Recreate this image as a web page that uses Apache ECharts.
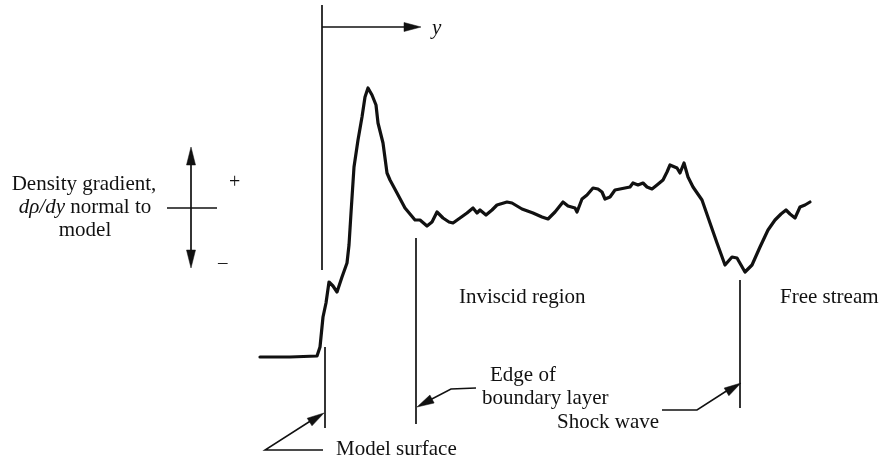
<!DOCTYPE html>
<html>
<head>
<meta charset="utf-8">
<script src="https://cdn.jsdelivr.net/npm/echarts@6/dist/echarts.min.js"></script>
<style>
  html, body { margin: 0; padding: 0; background: #fff; }
  #chart { width: 887px; height: 460px; }
</style>
</head>
<body>
<div id="chart"></div>
<script>
// Distance y measured from the model surface (arbitrary units)
const position = [
  -63, -33, -6, -3, 0, 3, 6, 10, 14, 19,
  24, 26, 28, 31, 35, 39, 42, 45, 49, 53,
  55, 60, 64, 67, 74, 82, 87, 92, 97, 104,
  109, 114, 120, 126, 130, 137, 144, 150, 154, 157,
  163, 169, 174, 184, 189, 199, 210, 219, 225, 232,
  240, 245, 252, 254, 259, 264, 270, 275, 279, 282,
  287, 292, 297, 302, 307, 310, 315, 320, 324, 329,
  334, 340, 344, 347, 354, 357, 361, 365, 370, 379,
  387, 394, 402, 409, 414, 422, 429, 437, 445, 452,
  458, 463, 467, 472, 477, 482, 487
];

// Density gradient dρ/dy normal to the model (arbitrary units, 0 = crossbar)
const gradient = [
  -149, -149, -148, -139, -109, -95, -74, -78, -84, -69,
  -55, -37, -5, 41, 68, 91, 111, 120, 113, 103,
  85, 65, 35, 28, 15, 0, -6, -12, -12, -18,
  -14, -4, -10, -14, -15, -10, -5, 0, -5, -2,
  -7, -2, 3, 6, 5, -1, -5, -9, -11, -4,
  6, 2, 0, -4, 9, 13, 20, 19, 16, 9,
  11, 18, 19, 20, 21, 25, 23, 25, 21, 19,
  23, 28, 36, 43, 40, 35, 45, 31, 21, 8,
  -15, -35, -57, -49, -50, -64, -57, -39, -22, -12,
  -6, -2, -6, -10, 1, 3, 6
];

// Region labels
const regionLabels = ['Inviscid region', 'Free stream'];
const axisLabelLines = ['Density gradient,', '{i|dρ/dy} normal to', 'model'];

const chart = echarts.init(document.getElementById('chart'), null, { renderer: 'canvas' });

const INK = '#111';
const SERIF = '"Liberation Serif", "DejaVu Serif", serif';
const FONT = '21px ' + SERIF;

function line(points, w) {
  return { type: 'polyline', shape: { points: points },
           style: { stroke: INK, lineWidth: w || 1.5, fill: null } };
}
function head(from, tip, len, hw) {
  const dx = tip[0] - from[0], dy = tip[1] - from[1];
  const d = Math.hypot(dx, dy);
  const ux = dx / d, uy = dy / d;
  const bx = tip[0] - ux * len, by = tip[1] - uy * len;
  return { type: 'polygon',
           shape: { points: [tip, [bx - uy * hw, by + ux * hw], [bx + uy * hw, by - ux * hw]] },
           style: { fill: INK, stroke: INK, lineWidth: 0.5 } };
}
function text(str, x, y, align, extra) {
  return { type: 'text', x: x, y: y,
           style: Object.assign({ text: str, font: FONT, fill: INK,
                                  textAlign: align || 'left', textVerticalAlign: 'middle' }, extra || {}) };
}

chart.setOption({
  animation: false,
  backgroundColor: '#fff',
  grid: { left: 0, right: 0, top: 0, bottom: 0 },
  xAxis: { type: 'value', min: -323, max: 564, show: false },
  yAxis: { type: 'value', min: -252, max: 208, show: false },
  series: [{
    type: 'line',
    data: position.map((x, i) => [x, gradient[i]]),
    symbol: 'none',
    lineStyle: { color: INK, width: 3.2, join: 'round', cap: 'round' }
  }]
});

// Annotation layer placed from data coordinates
const P = (x, v) => chart.convertToPixel({ gridIndex: 0 }, [x, v]);
const surf = P(0, 0)[0] - 1;      // model surface
const edge = P(93, 0)[0];         // edge of boundary layer
const shock = P(417, 0)[0];       // shock wave
const zeroY = P(0, 0)[1];

const g = [];
// y-direction reference at the model surface
g.push(line([[surf, 5], [surf, 270]], 1.7));
g.push(line([[surf, 27], [408, 27]], 1.7));
g.push(head([surf, 27], [421, 27], 17, 4.5));
g.push(text('y', 432, 28, 'left', { font: 'italic 21px ' + SERIF }));

// dρ/dy sign indicator
g.push(line([[191, 160], [191, 255]], 1.7));
g.push(head([191, 208], [191, 147], 18, 4.5));
g.push(head([191, 208], [191, 268], 18, 4.5));
g.push(line([[167, zeroY], [217, zeroY]], 1.7));
g.push(text('+', 229, 183, 'left', { font: '20px ' + SERIF }));
g.push(text('\u2013', 218, 263, 'left', { font: '19px ' + SERIF }));
g.push(text(axisLabelLines[0], 84, 184, 'center'));
g.push(text(axisLabelLines[1], 85, 207, 'center', { rich: { i: { font: 'italic 21px ' + SERIF, fill: INK } } }));
g.push(text(axisLabelLines[2], 85, 230, 'center'));

// Model surface marker
g.push(line([[surf + 3, 347], [surf + 3, 428]], 1.7));
g.push(line([[323, 450], [265, 450], [312, 420]], 1.5));
g.push(head([265, 450], [324, 413], 17, 4.5));
g.push(text('Model surface', 336, 449, 'left'));

// Edge of boundary layer
g.push(line([[edge, 238], [edge, 424]], 1.7));
g.push(line([[476, 388], [451, 389], [428, 401]], 1.5));
g.push(head([451, 389], [417, 407], 17, 4.5));
g.push(text('Edge of', 490, 375, 'left'));
g.push(text('boundary layer', 482, 398, 'left'));

// Shock wave
g.push(line([[shock, 280], [shock, 408]], 1.7));
g.push(line([[662, 410], [697, 410], [728, 390]], 1.5));
g.push(head([697, 410], [741, 383], 17, 4.5));
g.push(text('Shock wave', 557, 422, 'left'));

// Region labels
g.push(text(regionLabels[0], 459, 297, 'left'));
g.push(text(regionLabels[1], 780, 297, 'left'));

chart.setOption({ graphic: g });
</script>
</body>
</html>
